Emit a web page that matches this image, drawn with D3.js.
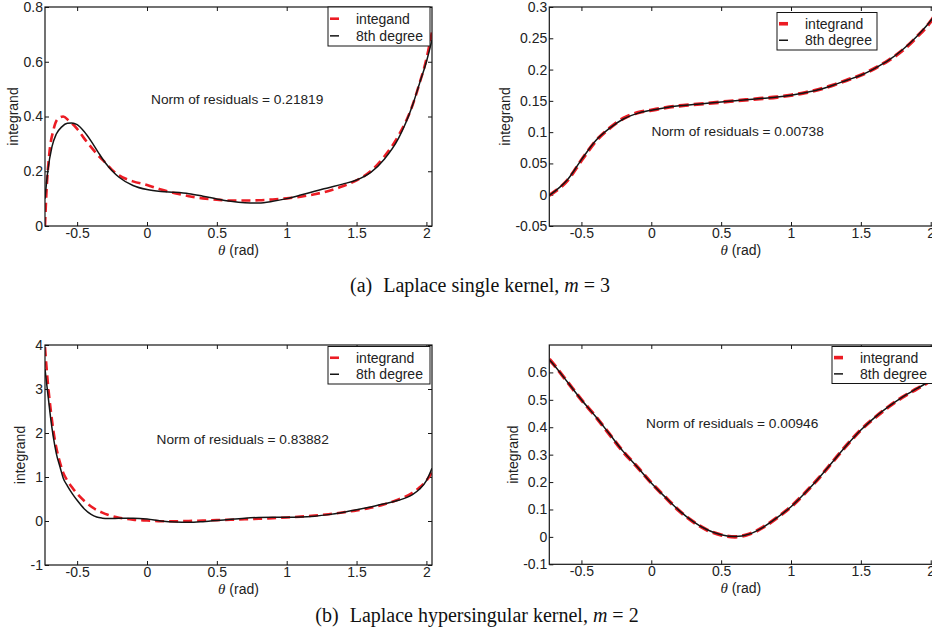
<!DOCTYPE html>
<html>
<head>
<meta charset="utf-8">
<script src="https://cdn.jsdelivr.net/npm/d3@7"></script>
<style>
  body { margin: 0; background: #fff; }
  svg { display: block; font-family: "Liberation Sans", Arial, sans-serif; }
</style>
</head>
<body>
<div id="chart"></div>
<script>
// DATA //

const xTicks = [-0.5, 0, 0.5, 1, 1.5, 2];

// (a) left: Laplace single kernel, first interval
const thetaA1 = [-0.73, -0.72, -0.70, -0.67, -0.64, -0.60, -0.56, -0.5, -0.45, -0.4, -0.35, -0.3, -0.25, -0.2, -0.1, 0, 0.1, 0.2, 0.3, 0.4, 0.5, 0.6, 0.7, 0.8, 0.9, 1.0, 1.1, 1.2, 1.3, 1.4, 1.5, 1.6, 1.7, 1.8, 1.9, 1.95, 2.0, 2.04];
const integrandA1 = [0, 0.12, 0.26, 0.35, 0.39, 0.40, 0.385, 0.355, 0.32, 0.288, 0.258, 0.232, 0.205, 0.185, 0.163, 0.15, 0.133, 0.12, 0.109, 0.101, 0.096, 0.093, 0.093, 0.094, 0.097, 0.101, 0.107, 0.116, 0.128, 0.145, 0.167, 0.2, 0.255, 0.33, 0.44, 0.52, 0.61, 0.71];
const fitThetaA1 = [-0.73, -0.71, -0.68, -0.65, -0.61, -0.57, -0.54, -0.5, -0.45, -0.4, -0.35, -0.3, -0.25, -0.2, -0.1, 0, 0.1, 0.2, 0.3, 0.4, 0.5, 0.6, 0.7, 0.8, 0.9, 1.0, 1.1, 1.2, 1.3, 1.4, 1.5, 1.6, 1.7, 1.8, 1.9, 1.95, 2.0, 2.04];
const fitA1 = [0.1, 0.2, 0.29, 0.335, 0.362, 0.375, 0.376, 0.37, 0.345, 0.31, 0.27, 0.232, 0.202, 0.178, 0.148, 0.133, 0.126, 0.123, 0.118, 0.109, 0.099, 0.09, 0.085, 0.084, 0.09, 0.1, 0.113, 0.127, 0.14, 0.153, 0.168, 0.195, 0.245, 0.32, 0.44, 0.52, 0.6, 0.68];

// (a) right
const thetaA2 = [-0.73, -0.65, -0.6, -0.5, -0.4, -0.3, -0.2, -0.1, 0, 0.1, 0.2, 0.3, 0.4, 0.5, 0.6, 0.7, 0.8, 0.9, 1.0, 1.1, 1.2, 1.3, 1.4, 1.5, 1.6, 1.7, 1.8, 1.9, 2.0, 2.04];
const integrandA2 = [-0.001, 0.012, 0.023, 0.055, 0.085, 0.106, 0.122, 0.131, 0.135, 0.139, 0.142, 0.144, 0.146, 0.148, 0.15, 0.152, 0.154, 0.156, 0.159, 0.163, 0.168, 0.175, 0.183, 0.191, 0.202, 0.215, 0.231, 0.252, 0.277, 0.29];
const fitA2 = [-0.001, 0.013, 0.024, 0.056, 0.086, 0.106, 0.121, 0.13, 0.135, 0.139, 0.142, 0.144, 0.146, 0.148, 0.15, 0.152, 0.154, 0.156, 0.159, 0.163, 0.168, 0.175, 0.183, 0.191, 0.202, 0.215, 0.232, 0.253, 0.278, 0.29];

// (b) left: Laplace hypersingular kernel
const thetaB1 = [-0.73, -0.71, -0.69, -0.67, -0.65, -0.62, -0.6, -0.57, -0.53, -0.5, -0.45, -0.4, -0.36, -0.32, -0.28, -0.2, -0.1, 0, 0.1, 0.2, 0.3, 0.4, 0.5, 0.6, 0.7, 0.8, 0.9, 1.0, 1.1, 1.2, 1.3, 1.4, 1.5, 1.6, 1.7, 1.8, 1.9, 1.95, 2.0, 2.04];
const integrandB1 = [3.95, 3.15, 2.55, 2.05, 1.68, 1.3, 1.1, 0.92, 0.74, 0.62, 0.46, 0.33, 0.25, 0.19, 0.14, 0.075, 0.03, 0.01, -0.005, -0.005, 0.0, 0.01, 0.02, 0.03, 0.04, 0.05, 0.065, 0.08, 0.1, 0.125, 0.155, 0.195, 0.24, 0.3, 0.38, 0.49, 0.64, 0.76, 0.92, 1.1];
const fitB1 = [3.45, 2.9, 2.35, 1.9, 1.55, 1.2, 0.98, 0.8, 0.6, 0.47, 0.28, 0.15, 0.09, 0.065, 0.055, 0.06, 0.065, 0.045, 0.0, -0.025, -0.03, -0.015, 0.01, 0.04, 0.065, 0.08, 0.085, 0.085, 0.09, 0.11, 0.145, 0.195, 0.255, 0.32, 0.39, 0.47, 0.6, 0.72, 0.92, 1.2];

// (b) right
const thetaB2 = [-0.73, -0.7, -0.6, -0.5, -0.4, -0.3, -0.2, -0.1, 0, 0.1, 0.2, 0.3, 0.4, 0.5, 0.6, 0.7, 0.8, 0.9, 1.0, 1.1, 1.2, 1.3, 1.4, 1.5, 1.6, 1.7, 1.8, 1.9, 2.0, 2.04];
const integrandB2 = [0.648, 0.63, 0.565, 0.5, 0.44, 0.375, 0.31, 0.255, 0.197, 0.145, 0.095, 0.055, 0.025, 0.007, 0.0, 0.01, 0.035, 0.07, 0.11, 0.16, 0.215, 0.275, 0.335, 0.39, 0.435, 0.475, 0.51, 0.54, 0.57, 0.585];
const fitB2 = [0.646, 0.629, 0.565, 0.5, 0.44, 0.376, 0.311, 0.255, 0.197, 0.145, 0.096, 0.056, 0.026, 0.008, 0.001, 0.01, 0.035, 0.07, 0.11, 0.16, 0.215, 0.275, 0.335, 0.39, 0.436, 0.476, 0.511, 0.541, 0.57, 0.584];

const legendLabelsA1 = ["integand", "8th degree"];
const legendLabels = ["integrand", "8th degree"];
const normTexts = ["Norm of residuals = 0.21819", "Norm of residuals = 0.00738", "Norm of residuals =  0.83882", "Norm of residuals = 0.00946"];

// LAYOUT //

const width = 932, height = 642;
const red = "#ec1c24", black = "#141414", textColor = "#222";

const svg = d3.select("#chart").append("svg")
  .attr("width", width).attr("height", height);

const fmt = (d) => String(+d.toFixed(2));

const panels = [
  { left: 45, top: 7, w: 387, h: 219, xDom: [-0.73, 2.04], yDom: [0, 0.8], yTicks: [0, 0.2, 0.4, 0.6, 0.8],
    series: [[thetaA1, integrandA1], [fitThetaA1, fitA1]], redW: 2.6, dash: "9,5", legendText: legendLabelsA1,
    legend: { x: 328, y: 7, w: 102, h: 39 }, norm: { x: 151, y: 104, t: normTexts[0] }, yLabelX: 13 },
  { left: 549.3, top: 7, w: 387, h: 219, xDom: [-0.73, 2.04], yDom: [-0.05, 0.3], yTicks: [-0.05, 0, 0.05, 0.1, 0.15, 0.2, 0.25, 0.3],
    series: [[thetaA2, integrandA2], [thetaA2, fitA2]], redW: 3.6, dash: "10,5", legendText: legendLabels,
    legend: { x: 777, y: 12.5, w: 100, h: 37.5 }, norm: { x: 651.5, y: 136, t: normTexts[1] }, yLabelX: 505 },
  { left: 45, top: 345, w: 387, h: 220, xDom: [-0.73, 2.04], yDom: [-1, 4], yTicks: [-1, 0, 1, 2, 3, 4],
    series: [[thetaB1, integrandB1], [thetaB1, fitB1]], redW: 2.6, dash: "9,5", legendText: legendLabels,
    legend: { x: 328, y: 346.5, w: 102, h: 37.5 }, norm: { x: 156.5, y: 444, t: normTexts[2] }, yLabelX: 20 },
  { left: 549.3, top: 345, w: 387, h: 219.3, xDom: [-0.73, 2.04], yDom: [-0.1, 0.7], yTicks: [-0.1, 0, 0.1, 0.2, 0.3, 0.4, 0.5, 0.6],
    series: [[thetaB2, integrandB2], [thetaB2, fitB2]], redW: 3.6, dash: "10,5", legendText: legendLabels,
    legend: { x: 832, y: 346.5, w: 110, h: 37 }, norm: { x: 646, y: 428, t: normTexts[3] }, yLabelX: 513 },
];

panels.forEach((p, i) => {
  const x = d3.scaleLinear().domain(p.xDom).range([p.left, p.left + p.w]);
  const y = d3.scaleLinear().domain(p.yDom).range([p.top + p.h, p.top]);
  const g = svg.append("g");

  // clip for curves
  const clipId = "clip" + i;
  svg.append("clipPath").attr("id", clipId).append("rect")
    .attr("x", p.left).attr("y", p.top).attr("width", p.w).attr("height", p.h);

  // axes with inward ticks (box style)
  const styleAxis = (sel) => {
    sel.select(".domain").remove();
    sel.selectAll("line").attr("stroke", black);
    sel.selectAll("text").attr("fill", textColor).style("font-size", "14px")
      .style("font-family", "'Liberation Sans', Arial, sans-serif");
  };
  g.append("g").attr("transform", `translate(0,${p.top + p.h})`)
    .call(d3.axisBottom(x).tickValues(xTicks).tickFormat(fmt).tickSizeInner(-4).tickSizeOuter(0).tickPadding(2))
    .call(styleAxis);
  g.append("g").attr("transform", `translate(0,${p.top})`)
    .call(d3.axisTop(x).tickValues(xTicks).tickFormat("").tickSizeInner(-4).tickSizeOuter(0))
    .call(styleAxis);
  g.append("g").attr("transform", `translate(${p.left},0)`)
    .call(d3.axisLeft(y).tickValues(p.yTicks).tickFormat(fmt).tickSizeInner(-4).tickSizeOuter(0).tickPadding(2))
    .call(styleAxis);
  g.append("g").attr("transform", `translate(${p.left + p.w},0)`)
    .call(d3.axisRight(y).tickValues(p.yTicks).tickFormat("").tickSizeInner(-4).tickSizeOuter(0))
    .call(styleAxis);

  // curves
  const line = d3.line().x((d) => x(d[0])).y((d) => y(d[1])).curve(d3.curveMonotoneX);
  const [redData, blackData] = p.series.map(([t, v]) => t.map((tt, k) => [tt, v[k]]));
  g.append("path").datum(redData).attr("clip-path", `url(#${clipId})`)
    .attr("d", line).attr("fill", "none").attr("stroke", red)
    .attr("stroke-width", p.redW).attr("stroke-dasharray", p.dash);
  g.append("path").datum(blackData).attr("clip-path", `url(#${clipId})`)
    .attr("d", line).attr("fill", "none").attr("stroke", black).attr("stroke-width", 1.5);

  // box
  g.append("rect").attr("x", p.left).attr("y", p.top).attr("width", p.w).attr("height", p.h)
    .attr("fill", "none").attr("stroke", black).attr("stroke-width", 1.2);

  // axis labels
  g.append("text").attr("transform", `translate(${p.yLabelX},${p.top + p.h / 2}) rotate(-90)`)
    .attr("text-anchor", "middle").attr("dy", "0.35em").attr("fill", textColor)
    .style("font-size", "14px").text("integrand");
  const xl = g.append("text").attr("x", p.left + p.w / 2 - (i % 2 ? 2 : 0)).attr("y", p.top + p.h + 29)
    .attr("text-anchor", "middle").attr("fill", textColor).style("font-size", "14px");
  xl.append("tspan").style("font-family", "'Liberation Serif', 'Times New Roman', serif")
    .style("font-style", "italic").style("font-size", "15px").text("θ");
  xl.append("tspan").text(" (rad)");

  // norm text
  g.append("text").attr("x", p.norm.x).attr("y", p.norm.y).attr("fill", textColor)
    .style("font-size", "13.7px").text(p.norm.t);

  // legend
  const L = p.legend;
  const lg = g.append("g");
  lg.append("rect").attr("x", L.x).attr("y", L.y).attr("width", L.w).attr("height", L.h)
    .attr("fill", "#fff").attr("stroke", black).attr("stroke-width", 1);
  const rowY = [L.y + L.h * 0.3, L.y + L.h * 0.74];
  lg.append("line").attr("x1", L.x + 2).attr("x2", L.x + 16).attr("y1", rowY[0]).attr("y2", rowY[0])
    .attr("stroke", red).attr("stroke-width", p.redW).attr("stroke-dasharray", "9,5");
  lg.append("line").attr("x1", L.x + 2).attr("x2", L.x + 16).attr("y1", rowY[1]).attr("y2", rowY[1])
    .attr("stroke", black).attr("stroke-width", 1.5).attr("stroke-dasharray", "9,5");
  p.legendText.forEach((t, k) => {
    lg.append("text").attr("x", L.x + 28).attr("y", rowY[k]).attr("dy", "0.36em")
      .attr("fill", textColor).style("font-size", "14px").text(t);
  });
});

// captions
const captions = [
  { x: 480, y: 292, label: "(a)", text: "Laplace single kernel, ", v: "3" },
  { x: 477, y: 622, label: "(b)", text: "Laplace hypersingular kernel, ", v: "2" },
];
captions.forEach((c) => {
  const t = svg.append("text").attr("x", c.x).attr("y", c.y).attr("text-anchor", "middle")
    .style("font-family", "'Liberation Serif', 'Times New Roman', serif").style("font-size", "20px")
    .attr("fill", "#111").attr("xml:space", "preserve");
  t.append("tspan").text(c.label);
  t.append("tspan").attr("dx", 11).text(c.text);
  t.append("tspan").style("font-style", "italic").text("m");
  t.append("tspan").attr("dx", 5).text("=");
  t.append("tspan").attr("dx", 5).text(c.v);
});
</script>
</body>
</html>
